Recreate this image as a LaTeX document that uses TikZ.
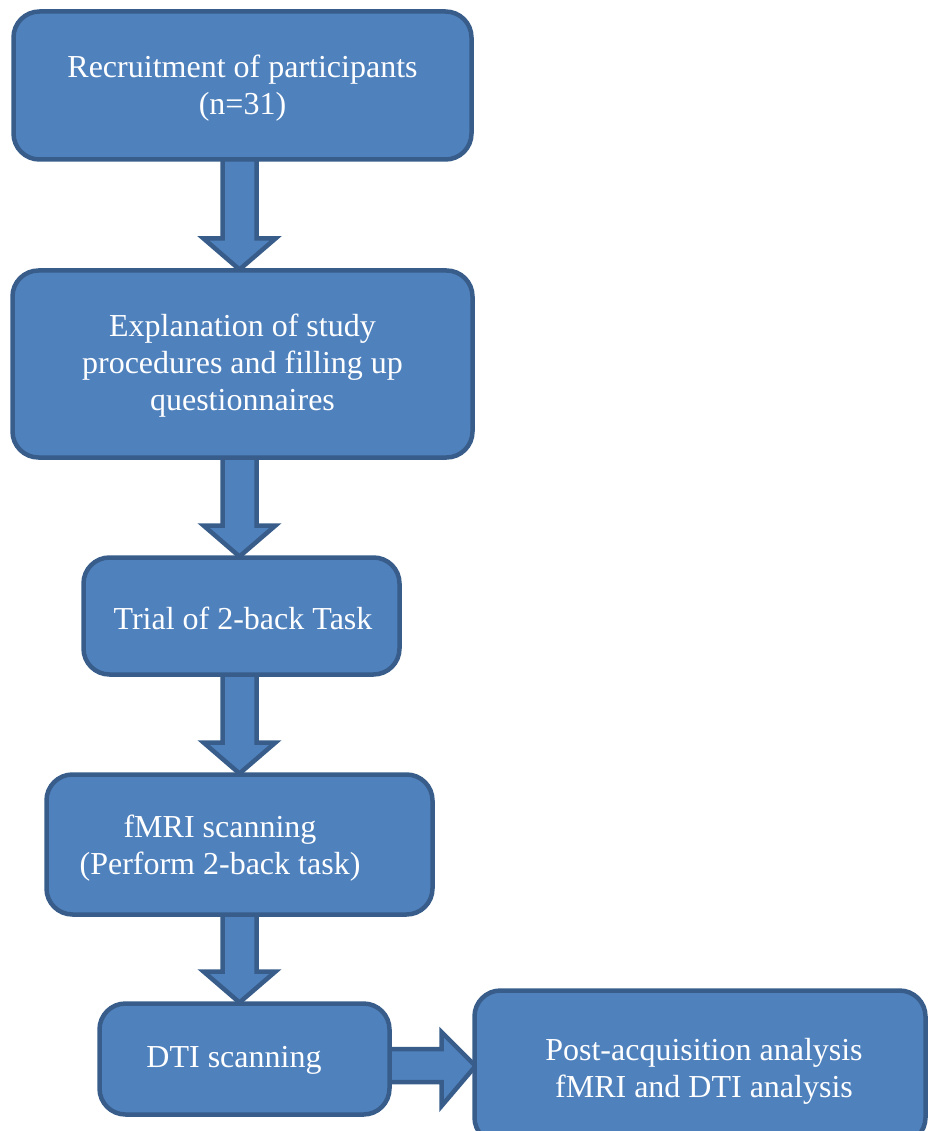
\documentclass[tikz,border=0pt]{standalone}
\usepackage{fontspec}
\setmainfont{Liberation Serif}
\usetikzlibrary{calc,backgrounds}
\definecolor{boxfill}{HTML}{4F81BD}
\definecolor{boxline}{HTML}{385D8A}
\tikzset{
  stepbox/.style={draw=boxline, fill=boxfill, line width=4.5pt, rounded corners=26pt,
    inner sep=0pt, outer sep=0pt},
  steptext/.style={text=white, align=center, inner sep=0pt,
    font=\fontsize{32}{37}\selectfont},
  blockarrow/.style={draw=boxline, fill=boxfill, line width=4.5pt, line join=miter}
}
% column of the vertical arrows
\def\colx{239.5pt}
% fat downward arrow from the bottom of #1 to the top of #2
\newcommand\flowdown[2]{%
  \path[blockarrow] let \p1=(#1.south), \p2=(#2.north) in
    (\colx-17pt,\y1+4pt) -- (\colx-17pt,\y2+32pt) -- (\colx-36pt,\y2+32pt)
    -- (\colx,\y2+1pt) -- (\colx+36pt,\y2+32pt) -- (\colx+17pt,\y2+32pt)
    -- (\colx+17pt,\y1+4pt) -- cycle;}
\begin{document}
\begin{tikzpicture}[x=1pt,y=-1pt]
\useasboundingbox (0,0) rectangle (927,1131);

\node[stepbox, minimum width=458pt, minimum height=148pt] (n1) at (242.5,85.5) {};
\node[steptext] (t1) at (242.5,88) {Recruitment of participants\\(n=31)};

\node[stepbox, minimum width=460pt, minimum height=187pt] (n2) at (242.5,364) {};
\node[steptext] (t2) at (242.5,366) {Explanation of study\\procedures and filling up\\questionnaires};

\node[stepbox, minimum width=316pt, minimum height=117pt] (n3) at (241.5,616) {};
\node[steptext] (t3) at (243,618) {Trial of 2-back Task};

\node[stepbox, minimum width=386pt, minimum height=140pt] (n4) at (239.5,844.5) {};
\node[steptext] (t4) at (220,848) {fMRI scanning\\(Perform 2-back task)};

\node[stepbox, minimum width=290pt, minimum height=111pt] (n5) at (244.5,1059) {};
\node[steptext] (t5) at (234,1060) {DTI scanning};

\node[stepbox, minimum width=451pt, minimum height=153pt] (n6) at (700,1067) {};
\node[steptext] (t6) at (704,1071) {Post-acquisition analysis\\fMRI and DTI analysis};

\begin{pgfonlayer}{background}
\flowdown{n1}{n2}
\flowdown{n2}{n3}
\flowdown{n3}{n4}
\flowdown{n4}{n5}
% sideways arrow from the DTI step to the analysis step
\path[blockarrow] let \p1=(n5.east), \p2=(n6.west) in
  (\x1-4pt,1049) -- (\x2-33pt,1049) -- (\x2-33pt,1032) -- (\x2+1pt,1066)
  -- (\x2-33pt,1106) -- (\x2-33pt,1082) -- (\x1-4pt,1082) -- cycle;
\end{pgfonlayer}
\end{tikzpicture}
\end{document}
